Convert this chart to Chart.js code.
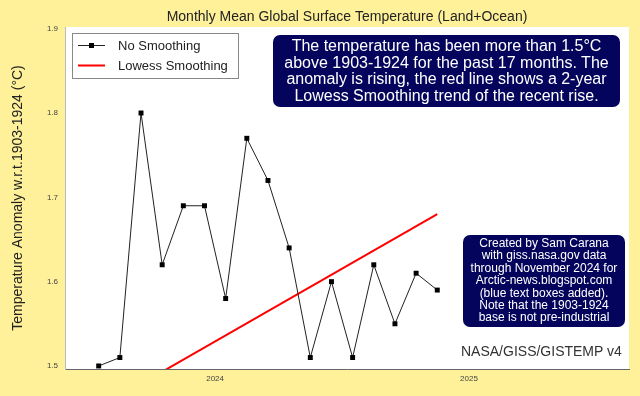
<!DOCTYPE html>
<html>
<head>
<meta charset="utf-8">
<script src="https://cdn.jsdelivr.net/npm/chart.js@4.4.1/dist/chart.umd.min.js"></script>
<style>
  html, body { margin: 0; padding: 0; background: #fff199; }
  #wrap { position: relative; width: 640px; height: 396px; background: #fff199; overflow: hidden; font-family: "Liberation Sans", Arial, sans-serif; }
  canvas { position: absolute; left: 0; top: 0; }
  .box { position: absolute; background: #04045c; color: #fff; text-align: center; border-radius: 7px; box-sizing: border-box; }
  #box1 { left: 273px; top: 35px; width: 347px; height: 72px; font-size: 16px; line-height: 16.5px; padding-top: 3px; }
  #box2 { left: 463px; top: 235px; width: 162px; height: 92px; font-size: 12px; line-height: 12.4px; padding-top: 2px; }
  #src { position: absolute; left: 461px; top: 343px; font-size: 14px; color: #333; white-space: nowrap; }
</style>
</head>
<body>
<div id="wrap">
  <canvas id="c" width="640" height="396"></canvas>
  <div class="box" id="box1">The temperature has been more than 1.5°C<br>above 1903-1924 for the past 17 months. The<br>anomaly is rising, the red line shows a 2-year<br>Lowess Smoothing trend of the recent rise.</div>
  <div class="box" id="box2">Created by Sam Carana<br>with giss.nasa.gov data<br>through November 2024 for<br>Arctic-news.blogspot.com<br>(blue text boxes added).<br>Note that the 1903-1924<br>base is not pre-industrial</div>
  <div id="src">NASA/GISS/GISTEMP v4</div>
</div>
<script>
// ---- data ----
const months = ['2023-07','2023-08','2023-09','2023-10','2023-11','2023-12',
                '2024-01','2024-02','2024-03','2024-04','2024-05','2024-06',
                '2024-07','2024-08','2024-09','2024-10','2024-11'];
const noSmoothing = [1.50, 1.51, 1.80, 1.62, 1.69, 1.69, 1.58, 1.77, 1.72, 1.64, 1.51, 1.60, 1.51, 1.62, 1.55, 1.61, 1.59];
const lowessMonths = ['2023-07', '2024-11'];
const lowessValues = [1.45, 1.68];
const yTickValues = [1.5, 1.6, 1.7, 1.8, 1.9];
const xTickValues = [2024, 2025];
const titleText = 'Monthly Mean Global Surface Temperature (Land+Ocean)';
const yTitleText = 'Temperature Anomaly w.r.t.1903-1924 (°C)';

function decYear(s) {
  const [y, m] = s.split('-').map(Number);
  return y + (m - 0.5) / 12;
}

const FONT = '"Liberation Sans", Arial, sans-serif';

const plotBg = {
  id: 'plotBg',
  beforeDraw(chart) {
    const ctx = chart.ctx, a = chart.chartArea;
    ctx.save();
    ctx.fillStyle = '#ffffff';
    ctx.fillRect(a.left, a.top, a.right - a.left, a.bottom - a.top);
    ctx.restore();
  }
};

const customText = {
  id: 'customText',
  afterDraw(chart) {
    const ctx = chart.ctx, a = chart.chartArea;
    ctx.save();
    // main title
    ctx.fillStyle = '#222';
    ctx.font = '14px ' + FONT;
    ctx.textAlign = 'center';
    ctx.textBaseline = 'middle';
    ctx.fillText(titleText, (a.left + a.right) / 2, 17);
    // y axis title
    ctx.save();
    ctx.translate(18, (a.top + a.bottom) / 2);
    ctx.rotate(-Math.PI / 2);
    ctx.fillText(yTitleText, 0, 0);
    ctx.restore();
    // legend
    const lx = a.left + 7, ly = a.top + 6, lw = 166, lh = 45;
    ctx.fillStyle = '#fff';
    ctx.fillRect(lx, ly, lw, lh);
    ctx.strokeStyle = '#888';
    ctx.lineWidth = 1;
    ctx.strokeRect(lx + 0.5, ly + 0.5, lw, lh);
    chart.data.datasets.forEach((ds, i) => {
      const yy = ly + 12 + i * 20;
      ctx.strokeStyle = ds.borderColor;
      ctx.lineWidth = ds.borderWidth;
      ctx.beginPath();
      ctx.moveTo(lx + 6, yy + 0.5);
      ctx.lineTo(lx + 33, yy + 0.5);
      ctx.stroke();
      if (ds.pointRadius > 0) {
        ctx.fillStyle = ds.pointBackgroundColor;
        ctx.fillRect(lx + 17, yy - 2, 5, 5);
      }
      ctx.fillStyle = '#222';
      ctx.font = '13px ' + FONT;
      ctx.textAlign = 'left';
      ctx.textBaseline = 'middle';
      ctx.fillText(ds.label, lx + 46, yy + 1);
    });
    ctx.restore();
  }
};

new Chart(document.getElementById('c'), {
  type: 'line',
  data: {
    datasets: [
      {
        label: 'No Smoothing',
        data: months.map((m, i) => ({ x: decYear(m), y: noSmoothing[i] })),
        borderColor: '#222',
        borderWidth: 1,
        pointStyle: 'rect',
        pointRadius: 3.5,
        pointBorderWidth: 0,
        pointBackgroundColor: '#000',
        tension: 0
      },
      {
        label: 'Lowess Smoothing',
        data: lowessMonths.map((m, i) => ({ x: decYear(m), y: lowessValues[i] })),
        borderColor: '#ff0000',
        borderWidth: 2,
        pointRadius: 0,
        tension: 0,
        clip: 0
      }
    ]
  },
  options: {
    responsive: false,
    animation: false,
    devicePixelRatio: 1,
    layout: { padding: { left: 0, top: 27, right: 11, bottom: 0 } },
    plugins: { legend: { display: false }, title: { display: false }, tooltip: { enabled: false } },
    scales: {
      x: {
        type: 'linear',
        min: 2023.409,
        max: 2025.630,
        grid: { display: false, drawTicks: false },
        border: { display: true, color: '#666', width: 1 },
        ticks: { font: { size: 8, family: FONT }, color: '#444', padding: 5, callback: v => String(v) },
        afterBuildTicks: s => { s.ticks = xTickValues.map(v => ({ value: v })); },
        afterFit: s => { s.height = 27; }
      },
      y: {
        type: 'linear',
        min: 1.4964,
        max: 1.902,
        grid: { display: false, drawTicks: false },
        border: { display: true, color: '#bbb', width: 1 },
        ticks: { font: { size: 8, family: FONT }, color: '#444', padding: 7, callback: v => v.toFixed(1) },
        afterBuildTicks: s => { s.ticks = yTickValues.map(v => ({ value: v })); },
        afterFit: s => { s.width = 65; }
      }
    }
  },
  plugins: [plotBg, customText]
});
</script>
</body>
</html>
